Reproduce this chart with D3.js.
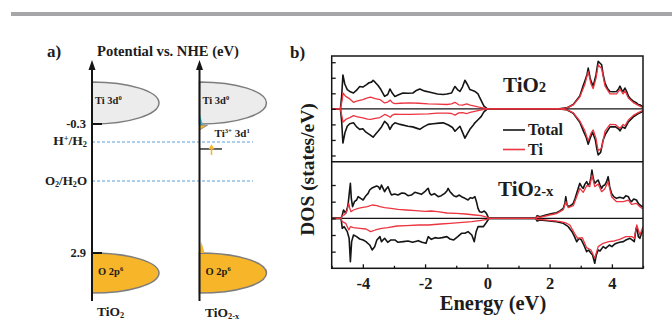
<!DOCTYPE html>
<html><head><meta charset="utf-8">
<script src="https://cdn.jsdelivr.net/npm/d3@7"></script>
<style>
html,body{margin:0;padding:0;background:#fff;}
svg{display:block;}
text{font-family:"Liberation Serif","Times New Roman",serif;font-weight:bold;fill:#1c1c1c;}
</style></head><body>
<svg id="c" width="672" height="321"></svg>
<script>
// ---------------- DATA ----------------
// Panel a) schematic band diagram (potential vs NHE, eV)
const potTicks = [-0.3, 2.9];
const redox = [{name: "H2", v: 0}, {name: "O2", v: 1.23}];
const cbBand = [-1.0, -0.3];        // Ti 3d0 band (top, bottom)
const vbBand = [2.9, 3.83];         // O 2p6 band (top, bottom)
const ti3Level = 0.22;              // Ti3+ 3d1 state
const ti3Arrow = [0.41, 0.07];      // excitation arrow (from, to)
const cyanTail = [-0.48, -0.28];    // tail state below CB
const orangeTail = [-0.28, -0.2];
const vbTailPeak = 2.64;            // small VB tail of TiO2-x

// Panel b) DOS : [energy (eV), DOS]
const xTicks = [-4, -2, 0, 2, 4];
const xMinorTicks = [-5, -3, -1, 1, 3, 5];
const yTicksTop = [-15, -10, -5, 0, 5, 10, 15];
const yTicksBot = [-10, -5, 0, 5, 10];

const tio2TotalUp = [[-5,0],[-4.72,0],[-4.68,4],[-4.64,10.9],[-4.58,8],[-4.5,6.2],[-4.42,5.6],[-4.3,5.1],[-4.2,6],[-4.1,7.2],[-4.0,7.0],[-3.88,7.8],[-3.8,8.4],[-3.72,8.6],[-3.67,9.2],[-3.6,8.5],[-3.51,7.5],[-3.42,6.2],[-3.3,4.0],[-3.2,4.6],[-3.13,6.4],[-3.05,5.0],[-2.97,4.0],[-2.85,4.5],[-2.71,5.1],[-2.55,5.0],[-2.39,5.1],[-2.3,5.8],[-2.17,6.4],[-2.08,6.0],[-2.0,5.7],[-1.87,5.4],[-1.74,5.1],[-1.6,4.8],[-1.42,4.6],[-1.3,4.8],[-1.15,5.1],[-1.08,6.5],[-1.04,7.2],[-0.96,6.2],[-0.88,5.6],[-0.8,7.0],[-0.72,9.2],[-0.65,8.0],[-0.56,6.2],[-0.45,5.8],[-0.4,5.6],[-0.3,4.8],[-0.24,3.5],[-0.11,0.9],[0,0],[2.3,0],[2.55,0.3],[2.76,1.4],[2.97,4.1],[3.08,7.5],[3.13,8.9],[3.2,11],[3.24,13.1],[3.3,10],[3.33,8.9],[3.4,7.3],[3.49,10.9],[3.53,13.5],[3.56,15.3],[3.67,14.2],[3.72,11],[3.78,8.3],[3.86,6.5],[3.94,5.6],[4.05,5.5],[4.15,5.6],[4.22,6.5],[4.26,7.3],[4.32,6.0],[4.36,5.6],[4.42,6.7],[4.48,5.5],[4.53,4.1],[4.6,3.2],[4.69,2.5],[4.78,2.0],[4.85,1.4],[4.92,1.2],[4.96,0.9],[5,0.5]];
const tio2TotalDown = [[-5,0],[-4.72,0],[-4.68,-4],[-4.64,-11],[-4.57,-7.5],[-4.5,-5.6],[-4.42,-4.8],[-4.3,-4.5],[-4.2,-5.8],[-4.1,-6.6],[-4.0,-6.4],[-3.9,-7.5],[-3.78,-8.3],[-3.67,-9.1],[-3.58,-8],[-3.51,-7.2],[-3.4,-5.8],[-3.3,-4.0],[-3.2,-5],[-3.13,-6.6],[-3.05,-5.2],[-2.97,-4.5],[-2.8,-5],[-2.55,-5.6],[-2.4,-5.8],[-2.28,-6.2],[-2.17,-6.6],[-2.05,-5.8],[-1.9,-5.0],[-1.74,-4.8],[-1.55,-4.6],[-1.42,-4.5],[-1.25,-5.2],[-1.12,-6.0],[-1.04,-7.2],[-0.96,-6.4],[-0.88,-5.6],[-0.8,-7.5],[-0.72,-9.4],[-0.64,-8],[-0.56,-6.6],[-0.45,-5.2],[-0.4,-4.5],[-0.3,-3.5],[-0.2,-2.5],[-0.11,-1.0],[0,0],[2.3,0],[2.55,-0.3],[2.76,-1.4],[2.97,-4.3],[3.1,-7.5],[3.17,-9],[3.24,-11.4],[3.3,-9.5],[3.38,-7.5],[3.47,-10],[3.52,-13],[3.56,-14.8],[3.64,-14],[3.72,-10],[3.8,-8],[3.94,-5.8],[4.12,-5.8],[4.22,-6.5],[4.26,-7.1],[4.34,-5.8],[4.42,-6.3],[4.53,-4.2],[4.69,-2.6],[4.85,-1.5],[4.96,-1.0],[5,-0.6]];
const tio2TiUp = [[-5,0],[-4.72,0],[-4.66,3],[-4.64,5.1],[-4.55,4],[-4.42,3.2],[-4.3,2.1],[-4.2,2.5],[-4.0,3.0],[-3.85,3.5],[-3.75,3.8],[-3.6,3.3],[-3.45,3.0],[-3.3,1.9],[-3.2,2.2],[-3.12,2.8],[-3.05,2.0],[-2.97,1.7],[-2.8,1.8],[-2.5,1.9],[-2.2,1.8],[-1.9,1.6],[-1.6,1.5],[-1.3,1.4],[-1.15,1.6],[-1.04,2.1],[-0.92,1.3],[-0.8,1.2],[-0.66,1.6],[-0.55,1.2],[-0.3,0.6],[-0.1,0.2],[0,0],[2.3,0],[2.55,0.3],[2.76,1.3],[2.97,3.8],[3.13,7.8],[3.24,12.0],[3.33,8.0],[3.4,6.5],[3.49,9.8],[3.56,14.1],[3.67,13.0],[3.78,7.3],[3.94,4.8],[4.15,4.8],[4.26,6.3],[4.36,4.8],[4.42,5.8],[4.53,3.5],[4.69,2.0],[4.85,1.1],[5,0.4]];
const tio2TiDown = [[-5,0],[-4.72,0],[-4.66,-3],[-4.64,-4.3],[-4.55,-3.4],[-4.42,-2.8],[-4.3,-2.2],[-4.2,-2.5],[-4.0,-2.9],[-3.85,-3.3],[-3.75,-3.4],[-3.6,-3.1],[-3.45,-2.8],[-3.3,-1.8],[-3.2,-2.2],[-3.12,-2.7],[-3.05,-2.0],[-2.97,-1.7],[-2.8,-1.8],[-2.5,-1.8],[-2.2,-1.7],[-1.9,-1.6],[-1.6,-1.4],[-1.3,-1.4],[-1.15,-1.5],[-1.04,-2.0],[-0.92,-1.3],[-0.8,-1.2],[-0.66,-1.5],[-0.55,-1.1],[-0.3,-0.6],[-0.1,-0.2],[0,0],[2.3,0],[2.55,-0.3],[2.76,-1.3],[2.97,-3.9],[3.13,-7.0],[3.24,-10.3],[3.33,-7.8],[3.4,-6.8],[3.49,-9.5],[3.56,-13.5],[3.67,-12.6],[3.78,-7.2],[3.94,-5.0],[4.12,-5.1],[4.26,-6.3],[4.36,-5.0],[4.42,-5.5],[4.53,-3.6],[4.69,-2.1],[4.85,-1.2],[5,-0.5]];

const tio2xTotalUp = [[-5,0],[-4.7,0],[-4.66,1.0],[-4.62,2.5],[-4.55,1.5],[-4.5,3.0],[-4.47,4.5],[-4.43,8],[-4.40,10.5],[-4.37,6],[-4.33,3.5],[-4.27,5.0],[-4.2,5.5],[-4.15,6.5],[-4.07,6.0],[-3.99,5.5],[-3.9,6.8],[-3.83,7.5],[-3.78,8.5],[-3.72,9.0],[-3.65,9.3],[-3.56,9.7],[-3.5,9.5],[-3.45,8.7],[-3.4,10],[-3.35,9.0],[-3.3,8.0],[-3.25,8.8],[-3.19,9.5],[-3.12,7.8],[-3.08,7.0],[-2.98,7.3],[-2.87,7.0],[-2.75,7.6],[-2.65,7.5],[-2.55,6.8],[-2.44,7.0],[-2.33,7.8],[-2.22,7.5],[-2.12,7.2],[-2.01,8.0],[-1.95,8.6],[-1.9,9.0],[-1.85,7.5],[-1.8,7.0],[-1.7,7.4],[-1.58,6.5],[-1.48,6.8],[-1.37,7.5],[-1.3,8.2],[-1.26,9.0],[-1.2,8.0],[-1.15,7.5],[-1.08,6.8],[-1.0,6.5],[-0.9,7.0],[-0.83,6.5],[-0.72,6.0],[-0.62,5.5],[-0.55,6.2],[-0.48,6.0],[-0.4,6.5],[-0.35,5.0],[-0.3,3.0],[-0.25,2.0],[-0.18,1.8],[-0.1,2.2],[-0.03,1.5],[0.02,0.5],[0.05,0],[1.55,0],[1.6,0.8],[1.69,0.5],[1.85,0.9],[2.01,1.3],[2.12,1.5],[2.22,1.7],[2.33,2.2],[2.44,3.0],[2.49,4.5],[2.52,6.5],[2.56,4.0],[2.62,3.5],[2.7,4.0],[2.76,4.5],[2.82,6.0],[2.87,7.5],[2.92,9.0],[2.97,10.5],[3.03,9.5],[3.08,9.0],[3.13,10.2],[3.19,11.0],[3.24,10.0],[3.29,10.5],[3.33,12.5],[3.36,14.5],[3.4,12.0],[3.45,10.5],[3.5,11.0],[3.56,11.5],[3.62,10.0],[3.67,9.0],[3.72,9.8],[3.77,10.0],[3.83,11.0],[3.88,12.5],[3.93,9.5],[3.99,7.5],[4.06,6.5],[4.15,6.0],[4.25,6.3],[4.37,6.0],[4.45,6.8],[4.53,6.5],[4.58,5.5],[4.63,5.0],[4.7,5.8],[4.79,5.5],[4.85,4.5],[4.9,4.0],[4.98,3.5],[5,3.5]];
const tio2xTotalDown = [[-5,0],[-4.7,0],[-4.66,-3.0],[-4.6,-2.5],[-4.5,-4.0],[-4.44,-6],[-4.40,-13],[-4.36,-7],[-4.3,-5],[-4.2,-5.5],[-4.1,-6.2],[-3.99,-6.5],[-3.9,-7],[-3.78,-8],[-3.7,-9.5],[-3.62,-8.5],[-3.55,-6.5],[-3.45,-5.5],[-3.4,-7],[-3.3,-6],[-3.2,-7.2],[-3.1,-6.5],[-2.97,-6.5],[-2.87,-7.2],[-2.7,-7],[-2.55,-6.8],[-2.4,-7.2],[-2.22,-6.7],[-2.1,-7.2],[-1.97,-7.5],[-1.9,-5.5],[-1.8,-6.3],[-1.68,-5.8],[-1.58,-6],[-1.45,-5.8],[-1.3,-5.5],[-1.2,-6.2],[-1.08,-6.5],[-0.95,-5.5],[-0.83,-4.5],[-0.72,-4.5],[-0.62,-4.0],[-0.5,-5],[-0.42,-7],[-0.36,-4],[-0.3,-2.5],[-0.2,-2.5],[-0.13,-2.5],[-0.05,-1.5],[0.02,-0.5],[0.05,0],[1.55,0],[1.6,-0.8],[1.69,-0.5],[2.0,-0.8],[2.22,-1.0],[2.44,-1.5],[2.6,-2.5],[2.72,-4.0],[2.8,-5.5],[2.87,-7.0],[2.95,-6.0],[3.02,-6.5],[3.1,-8],[3.19,-10],[3.25,-9.5],[3.33,-10.5],[3.38,-11],[3.45,-13.5],[3.5,-11],[3.56,-9.5],[3.62,-9.8],[3.72,-8.5],[3.8,-9],[3.92,-8],[4.0,-8.5],[4.08,-7.8],[4.15,-7.5],[4.25,-7.2],[4.37,-7],[4.45,-6.5],[4.58,-6],[4.65,-6.5],[4.72,-7],[4.77,-3.5],[4.8,-2.5],[4.85,-5.5],[4.9,-6],[4.95,-4.5],[5,-3.5]];
const tio2xTiUp = [[-5,0],[-4.7,0],[-4.66,0.8],[-4.6,1.0],[-4.52,2.0],[-4.45,4.5],[-4.42,3.0],[-4.38,2.0],[-4.3,2.5],[-4.15,3.0],[-4.0,3.3],[-3.85,3.5],[-3.7,4.0],[-3.55,3.8],[-3.45,3.5],[-3.3,3.2],[-3.1,3.0],[-2.87,2.7],[-2.6,2.5],[-2.3,2.3],[-2.0,2.1],[-1.8,2.2],[-1.6,2.0],[-1.3,1.6],[-1.0,1.5],[-0.7,1.3],[-0.4,1.0],[-0.2,0.8],[0,0.3],[0.05,0],[1.55,0],[1.6,0.5],[1.69,0.3],[2.0,1.0],[2.22,1.4],[2.44,2.6],[2.52,5.0],[2.6,3.2],[2.76,3.8],[2.87,6.5],[2.97,9.0],[3.08,7.8],[3.19,9.8],[3.29,9.5],[3.36,13.0],[3.45,9.5],[3.56,10.3],[3.67,8.0],[3.77,8.8],[3.88,11.0],[3.99,6.5],[4.15,5.0],[4.37,5.0],[4.53,5.5],[4.63,4.2],[4.79,4.5],[4.9,3.5],[5,2.8]];
const tio2xTiDown = [[-5,0],[-4.7,0],[-4.66,-1.0],[-4.55,-1.5],[-4.45,-3.5],[-4.4,-2.5],[-4.3,-2.8],[-4.1,-3.0],[-3.9,-3.2],[-3.75,-4.0],[-3.6,-3.5],[-3.4,-3.0],[-3.2,-2.8],[-2.9,-2.3],[-2.6,-2.2],[-2.2,-2.0],[-1.9,-2.0],[-1.5,-1.7],[-1.2,-1.5],[-0.9,-1.3],[-0.5,-1.0],[-0.2,-0.6],[0,-0.3],[0.05,0],[1.55,0],[1.6,-0.4],[1.69,-0.3],[2.0,-0.6],[2.3,-0.9],[2.5,-1.3],[2.65,-2.0],[2.8,-4.5],[2.9,-6.0],[3.05,-5.8],[3.19,-8.8],[3.33,-9.5],[3.45,-12.0],[3.56,-8.5],[3.72,-7.5],[3.9,-7.0],[4.08,-6.8],[4.25,-6.3],[4.45,-5.5],[4.65,-5.5],[4.72,-6.0],[4.8,-2.0],[4.9,-5.0],[5,-2.5]];

// ---------------- DRAW ----------------
const svg = d3.select("#c");
const BLACK = "#151515", RED = "#ec3540", BLUE = "#5a9fd8", ORANGE = "#f7b52a", GREY = "#7d7d7d";

// top grey rule
svg.append("rect").attr("x", 11).attr("y", 12).attr("width", 661).attr("height", 4).attr("fill", "#a6a6a8");

// ===== panel a =====
const ya = d3.scaleLinear().domain([-0.3, 0, 1.23, 2.9]).range([124, 142, 181, 253]);
const axesX = [92, 199.5];
const bandRx = 67;
const ga = svg.append("g");

function halfEllipse(x0, e0, e1) {
  const t = ya(e0), b = ya(e1);
  return `M${x0},${t} A${bandRx},${(b - t) / 2} 0 0 1 ${x0},${b} Z`;
}
axesX.forEach(x0 => {
  ga.append("path").attr("d", halfEllipse(x0, cbBand[0], cbBand[1]))
    .attr("fill", "#ececec").attr("stroke", GREY).attr("stroke-width", 1.5);
  ga.append("path").attr("d", halfEllipse(x0, vbBand[0], vbBand[1]))
    .attr("fill", ORANGE).attr("stroke", GREY).attr("stroke-width", 1.5);
});

// dashed redox lines
redox.forEach(r => {
  ga.append("line").attr("x1", axesX[0]).attr("x2", 253).attr("y1", ya(r.v)).attr("y2", ya(r.v))
    .attr("stroke", BLUE).attr("stroke-width", 1).attr("stroke-dasharray", "3,2");
});

// TiO2-x tail states
const xr = axesX[1];
ga.append("path").attr("d", `M${xr},${ya(cyanTail[0])} L${xr + 3.5},${ya(cyanTail[1])} L${xr},${ya(cyanTail[1])} Z`)
  .attr("fill", "#2fb7d6");
ga.append("path").attr("d", `M${xr},${ya(orangeTail[0])} L${xr + 8},${ya(orangeTail[0])} L${xr},${ya(orangeTail[1])} Z`)
  .attr("fill", ORANGE).attr("stroke", GREY).attr("stroke-width", 0.8);
ga.append("path").attr("d", `M${xr},${ya(vbBand[0])} L${xr + 1.5},${ya(vbTailPeak)} L${xr + 3},${ya(vbTailPeak) + 4} L${xr + 5},${ya(vbBand[0])} Z`)
  .attr("fill", ORANGE);

// Ti3+ level and arrow
ga.append("line").attr("x1", xr).attr("x2", xr + 22.5).attr("y1", ya(ti3Level)).attr("y2", ya(ti3Level))
  .attr("stroke", "#333").attr("stroke-width", 1.5);
const ax = xr + 12;
ga.append("line").attr("x1", ax).attr("x2", ax).attr("y1", ya(ti3Arrow[0])).attr("y2", ya(ti3Arrow[1]) + 3)
  .attr("stroke", ORANGE).attr("stroke-width", 1.5);
ga.append("path").attr("d", `M${ax},${ya(ti3Arrow[1])} L${ax - 3},${ya(ti3Arrow[1]) + 5} L${ax + 3},${ya(ti3Arrow[1]) + 5} Z`)
  .attr("fill", ORANGE);

// vertical axes with arrow heads
axesX.forEach(x0 => {
  ga.append("line").attr("x1", x0).attr("x2", x0).attr("y1", 301).attr("y2", 66)
    .attr("stroke", BLACK).attr("stroke-width", 2);
  ga.append("path").attr("d", `M${x0},60 L${x0 - 3.5},70 L${x0 + 3.5},70 Z`).attr("fill", BLACK);
});
// potential ticks on left axis
potTicks.forEach(v => {
  ga.append("line").attr("x1", axesX[0]).attr("x2", axesX[0] + 10).attr("y1", ya(v)).attr("y2", ya(v))
    .attr("stroke", BLACK).attr("stroke-width", 2);
  ga.append("text").attr("x", 86).attr("y", ya(v) + 3.5).attr("text-anchor", "end")
    .attr("font-size", 12.5).text(v.toFixed(1));
});

// labels
function rich(sel, parts) {
  parts.forEach(p => {
    const t = sel.append("tspan").text(p[0]);
    if (p[1] === "sup") t.attr("font-size", "0.62em").attr("baseline-shift", "55%");
    else if (p[1] === "sub") t.attr("font-size", "0.62em").attr("baseline-shift", "-22%");
    else if (p[1] === "small") t.attr("font-size", "0.7em");
  });
  return sel;
}
rich(ga.append("text").attr("x", 87).attr("y", ya(0) + 3).attr("text-anchor", "end").attr("font-size", 13.5),
  [["H"], ["+", "sup"], ["/H"], ["2", "sub"]]);
rich(ga.append("text").attr("x", 87).attr("y", ya(1.23) + 4).attr("text-anchor", "end").attr("font-size", 13),
  [["O"], ["2", "sub"], ["/H"], ["2", "sub"], ["O"]]);
axesX.forEach(x0 => {
  rich(ga.append("text").attr("x", x0 + 3).attr("y", ya(-0.3) - 20).attr("font-size", 10.5),
    [["Ti 3d"], ["0", "sup"]]);
  rich(ga.append("text").attr("x", x0 + 6).attr("y", ya(2.9) + 22).attr("font-size", 10.5),
    [["O 2p"], ["6", "sup"]]);
});
rich(ga.append("text").attr("x", xr + 15).attr("y", ya(0) - 5.3).attr("font-size", 11),
  [["Ti"], ["3+", "sup"], [" 3d"], ["1", "sup"]]);
rich(ga.append("text").attr("x", 97).attr("y", 315.5).attr("font-size", 13.5), [["TiO"], ["2", "sub"]]);
rich(ga.append("text").attr("x", 205).attr("y", 316.5).attr("font-size", 13.5), [["TiO"], ["2-x", "sub"]]);
ga.append("text").attr("x", 47).attr("y", 57).attr("font-size", 17).text("a)");
ga.append("text").attr("x", 97).attr("y", 56).attr("font-size", 14.6).text("Potential vs. NHE (eV)");

// ===== panel b =====
const L = 331.7, R = 643, T = 56, MID = 161.7, B = 268.3;
const xb = d3.scaleLinear().domain([-5, 5]).range([L, R]);
const yTop = d3.scaleLinear().domain([-17, 17]).range([MID, T]);
const yBot = d3.scaleLinear().domain([-15, 17]).range([B, MID]);

const defs = svg.append("defs");
defs.append("clipPath").attr("id", "clipTop").append("rect").attr("x", L).attr("y", T).attr("width", R - L).attr("height", MID - T);
defs.append("clipPath").attr("id", "clipBot").append("rect").attr("x", L).attr("y", MID).attr("width", R - L).attr("height", B - MID);

function drawPanel(ys, clip, curves) {
  const g = svg.append("g").attr("clip-path", `url(#${clip})`);
  g.append("line").attr("x1", L).attr("x2", R).attr("y1", ys(0)).attr("y2", ys(0))
    .attr("stroke", BLACK).attr("stroke-width", 1.3);
  const line = d3.line().x(d => xb(d[0])).y(d => ys(d[1]));
  curves.forEach(c => {
    g.append("path").datum(c.data).attr("d", line).attr("fill", "none")
      .attr("stroke", c.color).attr("stroke-width", c.w).attr("stroke-linejoin", "round");
  });
}
drawPanel(yTop, "clipTop", [
  {data: tio2TotalUp, color: BLACK, w: 1.6}, {data: tio2TotalDown, color: BLACK, w: 1.6},
  {data: tio2TiUp, color: RED, w: 1.3}, {data: tio2TiDown, color: RED, w: 1.3}]);
drawPanel(yBot, "clipBot", [
  {data: tio2xTotalUp, color: BLACK, w: 1.6}, {data: tio2xTotalDown, color: BLACK, w: 1.6},
  {data: tio2xTiUp, color: RED, w: 1.3}, {data: tio2xTiDown, color: RED, w: 1.3}]);

// axes
const gxb = svg.append("g").attr("transform", `translate(0,${B})`)
  .call(d3.axisBottom(xb).tickValues(xTicks).tickSize(-4).tickPadding(9).tickFormat(d => String(d)));
const gxm = svg.append("g").attr("transform", `translate(0,${B})`)
  .call(d3.axisBottom(xb).tickValues(xMinorTicks).tickSize(-2.5).tickFormat(""));
const gyt = svg.append("g").attr("transform", `translate(${L},0)`)
  .call(d3.axisLeft(yTop).tickValues(yTicksTop).tickSize(-4).tickFormat(""));
const gyb = svg.append("g").attr("transform", `translate(${L},0)`)
  .call(d3.axisLeft(yBot).tickValues(yTicksBot).tickSize(-4).tickFormat(""));
[gxb, gxm, gyt, gyb].forEach(g => {
  g.select(".domain").remove();
  g.selectAll(".tick line").attr("stroke", BLACK).attr("stroke-width", 1.3);
});
gxb.selectAll(".tick text").attr("font-size", 16.5).attr("fill", "#1c1c1c")
  .attr("font-family", '"Liberation Serif","Times New Roman",serif').attr("font-weight", "bold");

// frame
svg.append("rect").attr("x", L).attr("y", T).attr("width", R - L).attr("height", B - T)
  .attr("fill", "none").attr("stroke", BLACK).attr("stroke-width", 1.5);
svg.append("line").attr("x1", L).attr("x2", R).attr("y1", MID).attr("y2", MID)
  .attr("stroke", BLACK).attr("stroke-width", 1.5);

// labels
svg.append("text").attr("x", 290).attr("y", 58).attr("font-size", 17).text("b)");
svg.append("text").attr("x", 493).attr("y", 310).attr("text-anchor", "middle").attr("font-size", 20.5).text("Energy (eV)");
svg.append("text").attr("transform", "translate(314,169.5) rotate(-90)").attr("text-anchor", "middle")
  .attr("font-size", 19.5).text("DOS (states/eV)");
rich(svg.append("text").attr("x", 503).attr("y", 91.5).attr("font-size", 21), [["TiO"], ["2", "small"]]);
rich(svg.append("text").attr("x", 498).attr("y", 196).attr("font-size", 21), [["TiO"], ["2-x", "small"]]);

// legend
const legend = [{name: "Total", color: BLACK, y: 130}, {name: "Ti", color: RED, y: 149.5}];
legend.forEach(d => {
  svg.append("line").attr("x1", 503).attr("x2", 525).attr("y1", d.y).attr("y2", d.y)
    .attr("stroke", d.color).attr("stroke-width", 1.6);
  svg.append("text").attr("x", 528).attr("y", d.y + 5).attr("font-size", 16).text(d.name);
});
</script></body></html>
